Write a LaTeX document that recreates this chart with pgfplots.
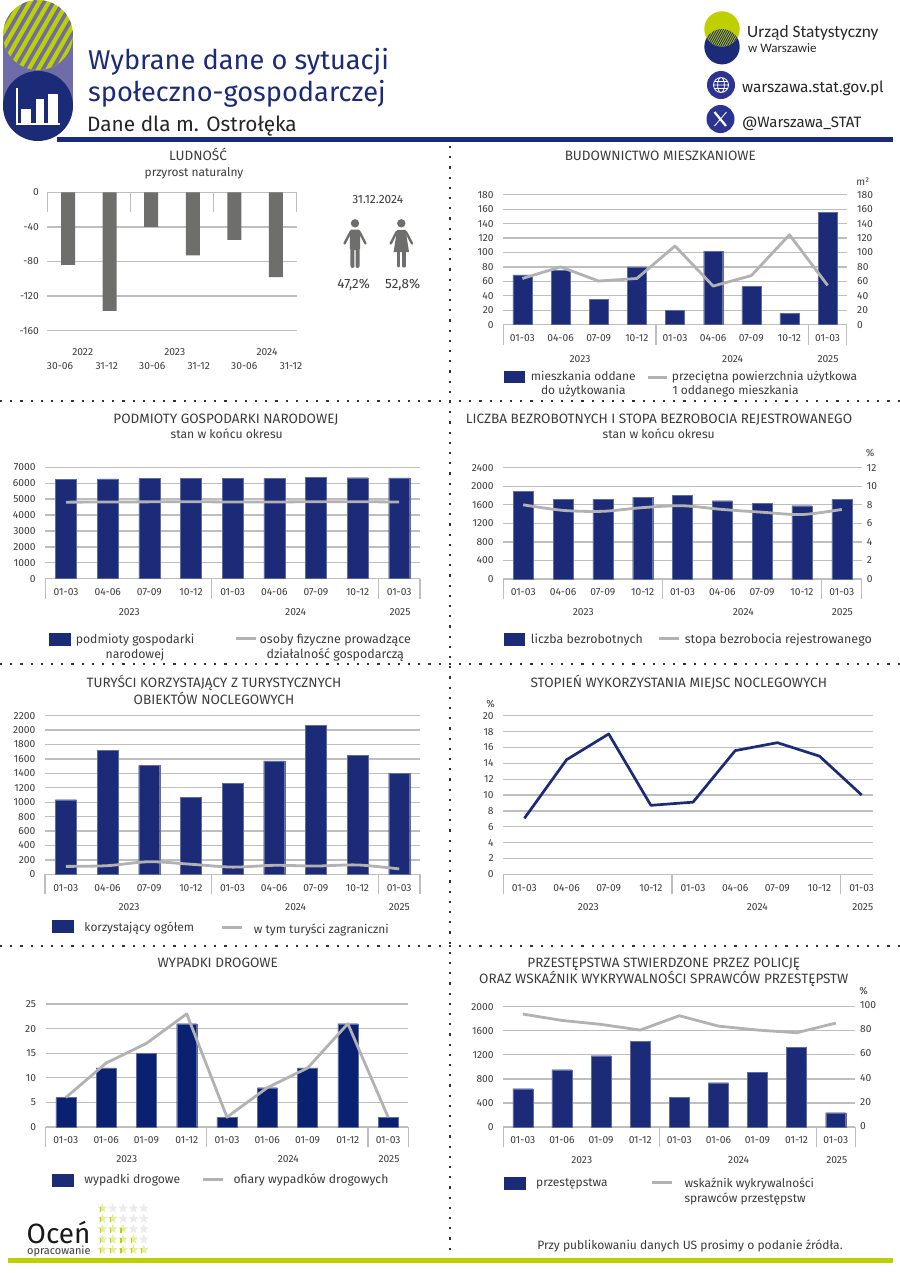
\documentclass[border=0pt]{standalone}
\usepackage{fontspec}
\setmainfont{Fira Sans}
\newfontfamily\logofont{Carlito}
\usepackage{pgfplots}
\pgfplotsset{compat=1.18}
\usetikzlibrary{shapes.geometric}

\definecolor{navy}{HTML}{1C2B77}
\definecolor{navyb}{HTML}{0A2070}
\definecolor{lime}{HTML}{BFD000}
\definecolor{lilac}{HTML}{6F6DA8}
\definecolor{gridc}{HTML}{BEBEBE}
\definecolor{linec}{HTML}{B2B2B2}
\definecolor{txt}{HTML}{3C3C3C}
\definecolor{greyb}{HTML}{6E6E6D}
\definecolor{icon}{HTML}{2B3490}

% text placed by its visual centre, in pixels from the top left corner
\newcommand{\ctext}[4]{\node[anchor=base,inner sep=0pt,text=txt] at ({#1},{#2+0.35*#3}) {\fontsize{#3}{#3}\selectfont #4};}
\newcommand{\ltext}[4]{\node[anchor=base west,inner sep=0pt,text=txt] at ({#1},{#2+0.35*#3}) {\fontsize{#3}{#3}\selectfont #4};}
\newcommand{\legrect}[4]{\fill[navy] (#1,#2) rectangle (#3,#4);}
\newcommand{\legline}[3]{\draw[linec,line width=2.6bp] (#1,#3) -- (#2,#3);}
\newcommand{\tl}{\fontsize{10.3}{10.3}\selectfont}

\pgfplotsset{
  ch/.style={scale only axis,anchor=north west,xmin=-0.5,xmax=8.5,
    axis x line=bottom,axis y line=left,
    x axis line style={draw=gridc,line width=1.3bp,-},y axis line style={draw=none},
    xtick={0,...,8},major tick length=0pt,tick align=outside,
    tick style={draw=gridc,line width=1.2bp},
    extra x ticks={-0.5,3.5,7.5,8.5},extra x tick labels={},
    extra x tick style={major tick length=20bp,grid=none},
    ymajorgrids,grid style={draw=gridc,line width=1.3bp},
    tick label style={font=\tl,text=txt,inner sep=0pt},
    /pgf/number format/assume math mode=true,/pgf/number format/1000 sep={},
    y tick label style={anchor=east,xshift=-9.5bp},
    x tick label style={anchor=base,yshift=-16.7bp},
    ybar,bar width=20bp},
  q/.style={xticklabels={01-03,04-06,07-09,10-12,01-03,04-06,07-09,10-12,01-03}},
  m/.style={xticklabels={01-03,01-06,01-09,01-12,01-03,01-06,01-09,01-12,01-03}},
  rt/.style={scale only axis,anchor=north west,xmin=-0.5,xmax=8.5,
    axis y line=right,axis x line=none,y axis line style={draw=none},
    xtick=\empty,major tick length=0pt,
    tick label style={font=\tl,text=txt,inner sep=0pt},
    /pgf/number format/assume math mode=true,/pgf/number format/1000 sep={}},
  barn/.style={fill=navy,draw=navy!70!white,line width=0.3bp},
  grey/.style={no markers,draw=linec,line width=2.8bp,line join=round},
}

\begin{document}
\begin{tikzpicture}[x=1bp,y=-1bp]
\useasboundingbox (0,0) rectangle (900,1273);
\fill[white] (0,0) rectangle (900,1273);

% header pill
\fill[lilac] (3,35) rectangle (73,106);
\begin{scope}
  \clip (38,35) circle (35);
  \fill[lime] (0,0) rectangle (75,72);
  \foreach \k in {-45,-35.6,...,80}
    \draw[lilac,line width=3.6bp] (\k,75) -- (\k+43.3,0);
\end{scope}
\fill[navy] (38,106) circle (35);
\draw[navy,line width=4.5bp] (57,139.3) -- (892.6,139.3);
\draw[white,line width=1.2bp] (17,88) -- (17,124) -- (60,124);
\fill[white] (21,109) rectangle (31,124);
\fill[white] (36,99) rectangle (44,124);
\fill[white] (48,94) rectangle (58,124);

\node[anchor=base west,inner sep=0pt,text=navy] at (88,69) {\fontsize{27.3}{27.3}\selectfont Wybrane dane o sytuacji};
\node[anchor=base west,inner sep=0pt,text=navy] at (88,101) {\fontsize{27.3}{27.3}\selectfont społeczno-gospodarczej};
\node[anchor=base west,inner sep=0pt,text=black!85] at (87,131) {\fontsize{20.9}{20.9}\selectfont Dane dla m. Ostrołęka};

% logo
\fill[navy] (722,46.7) circle (17.7);
\fill[lime] (722,29) circle (17.7);
\begin{scope}
  \clip (722,46.7) circle (17.7);
  \clip (722,29) circle (17.7);
  \foreach \k in {690,692.2,...,740}
    \draw[navy,line width=0.9bp] (\k,50) -- (\k+14,25);
\end{scope}
\node[anchor=base west,inner sep=0pt,text=black!85] at (747,37) {\logofont\fontsize{17.4}{17.4}\selectfont Urząd Statystyczny};
\node[anchor=base west,inner sep=0pt,text=black!85] at (748,52) {\logofont\fontsize{13}{13}\selectfont w Warszawie};
\fill[icon] (721,85) circle (14);
\draw[white,line width=0.8bp] (721,85) circle (7.5) (721,85) ellipse (3.4 and 7.5) (713.5,85) -- (728.5,85) (714.5,81.5) -- (727.5,81.5) (714.5,88.5) -- (727.5,88.5);
\fill[icon] (720.5,119) circle (14);
\draw[white,line width=2.2bp] (714.5,112) -- (726,126);
\draw[white,line width=0.8bp] (726.5,112) -- (714.5,126);
\node[anchor=base west,inner sep=0pt,text=black!85] at (742,92) {\fontsize{15.5}{15.5}\selectfont warszawa.stat.gov.pl};
\node[anchor=base west,inner sep=0pt,text=black!85] at (742,127) {\fontsize{15.1}{15.1}\selectfont @Warszawa\_STAT};

% dotted separators
\draw[black!80,line width=2.2bp,dash pattern=on 2.2bp off 8bp] (450,146) -- (450,1257);
\draw[black!80,line width=2.2bp,dash pattern=on 2.2bp off 8bp] (0,401) -- (900,401);
\draw[black!80,line width=2.2bp,dash pattern=on 2.2bp off 8bp] (0,664) -- (900,664);
\draw[black!80,line width=2.2bp,dash pattern=on 2.2bp off 8bp] (0,946) -- (900,946);
\draw[lime,line width=4.4bp] (8,1260.3) -- (893,1260.3);

% LUDNOSC
\draw[gridc,line width=1.2bp] (47.3,192.3) -- (47.3,211.5) (130.4,192.3) -- (130.4,211.5) (213.6,192.3) -- (213.6,211.5) (296.7,192.3) -- (296.7,211.5);
\begin{axis}[scale only axis,anchor=north west,at={(47.3bp,-192.3bp)},width=249.4bp,height=138.4bp,
  xmin=-0.5,xmax=5.5,ymin=-160,ymax=0,clip=false,
  axis x line=top,axis y line=left,
  x axis line style={draw=gridc,line width=1.3bp,-},y axis line style={draw=none},
  xtick=\empty,major tick length=0pt,
  ytick={0,-40,-80,-120,-160},ymajorgrids,grid style={draw=gridc,line width=1.3bp},
  tick label style={font=\tl,text=txt,inner sep=0pt},
  /pgf/number format/assume math mode=true,
  y tick label style={anchor=east,xshift=-8.3bp},
  ybar,bar width=14bp]
\addplot[fill=greyb,draw=none] coordinates {(0,-84)(1,-137)(2,-40)(3,-73)(4,-55)(5,-98)};
\end{axis}
\ctext{198}{155.7}{13.6}{LUDNOŚĆ}
\ctext{194}{172}{12}{przyrost naturalny}
\ctext{82.7}{352}{10.3}{2022}
\ctext{174.7}{352}{10.3}{2023}
\ctext{267}{352}{10.3}{2024}
\ctext{60}{366}{10.3}{30-06}
\ctext{106.7}{366}{10.3}{31-12}
\ctext{152.3}{366}{10.3}{30-06}
\ctext{198.7}{366}{10.3}{31-12}
\ctext{244.3}{366}{10.3}{30-06}
\ctext{291}{366}{10.3}{31-12}
\ctext{377.7}{199}{12}{31.12.2024}
\ctext{353.7}{284}{13.5}{47,2\%}
\ctext{402.7}{284}{13.5}{52,8\%}
% man
\fill[greyb] (355,223.3) circle (4.2);
\draw[greyb,line width=2.4bp,line cap=round,line join=round] (344.5,243.5) -- (350.5,232) -- (359.5,232) -- (365.5,243.5);
\fill[greyb,rounded corners=1.5bp] (349.8,229.5) rectangle (360.2,250);
\draw[greyb,line width=4bp,line cap=round] (352.3,248) -- (352.5,266);
\draw[greyb,line width=4bp,line cap=round] (357.7,248) -- (357.5,266);
% woman
\fill[greyb] (401.3,223.3) circle (4.2);
\draw[greyb,line width=2.4bp,line cap=round,line join=round] (390.7,243.5) -- (396.5,232) -- (406,232) -- (412,243.5);
\fill[greyb] (397,229.8) -- (405.6,229.8) -- (409,252) -- (393.6,252) -- cycle;
\draw[greyb,line width=3.2bp,line cap=round] (398.6,252) -- (398.6,266);
\draw[greyb,line width=3.2bp,line cap=round] (404,252) -- (404,266);

% BUDOWNICTWO
\begin{axis}[ch,q,at={(503.3bp,-194.7bp)},width=343.4bp,height=130bp,ymin=0,ymax=180,ytick={0,20,...,180},bar width=19bp]
\addplot[barn] coordinates {(0,69)(1,75)(2,35)(3,80)(4,20)(5,102)(6,53)(7,16)(8,156)};
\end{axis}
\begin{axis}[rt,at={(503.3bp,-194.7bp)},width=343.4bp,height=130bp,ymin=0,ymax=180,ytick={0,20,...,180},
  y tick label style={anchor=west,xshift=10.3bp}]
\addplot[grey] coordinates {(0,64)(1,80)(2,60.5)(3,64)(4,109)(5,53.5)(6,68)(7,124.5)(8,54.5)};
\end{axis}
\ctext{660.3}{155.7}{13.6}{BUDOWNICTWO MIESZKANIOWE}
\ctext{862.7}{182}{10.3}{m²}
\ctext{580}{359}{10.3}{2023}
\ctext{732.7}{359}{10.3}{2024}
\ctext{828}{359}{10.3}{2025}
\legrect{504}{371}{525.3}{383.3}
\ctext{583.3}{376}{12}{mieszkania oddane}
\ctext{583.3}{390.7}{12}{do użytkowania}
\legline{648}{666.7}{377.3}
\ltext{671.7}{376}{12}{przeciętna powierzchnia użytkowa}
\ltext{672.3}{390.7}{12}{1 oddanego mieszkania}

% PODMIOTY
\begin{axis}[ch,q,at={(45.3bp,-467.3bp)},width=374.7bp,height=111.4bp,ymin=0,ymax=7000,ytick={0,1000,...,7000},bar width=21bp]
\addplot[barn] coordinates {(0,6246)(1,6267)(2,6288)(3,6309)(4,6309)(5,6310)(6,6372)(7,6350)(8,6330)};
\addplot[grey,sharp plot] coordinates {(0,4810)(1,4820)(2,4830)(3,4840)(4,4820)(5,4820)(6,4840)(7,4840)(8,4820)};
\end{axis}
\ctext{226}{418.7}{13.6}{PODMIOTY GOSPODARKI NARODOWEJ}
\ctext{226.7}{434}{12.2}{stan w końcu okresu}
\ctext{129.3}{611.7}{10.3}{2023}
\ctext{295.7}{611.7}{10.3}{2024}
\ctext{400}{611.7}{10.3}{2025}
\legrect{49.3}{633}{71.3}{646}
\ctext{135}{639.3}{12.3}{podmioty gospodarki}
\ctext{135}{654}{12.3}{narodowej}
\legline{236}{256}{638.3}
\ctext{335.3}{639}{12.5}{osoby fizyczne prowadzące}
\ctext{335.3}{654}{12.5}{działalność gospodarczą}

% BEZROBOCIE
\begin{axis}[ch,q,at={(503.3bp,-467.7bp)},width=358.4bp,height=111.3bp,ymin=0,ymax=2400,ytick={0,400,...,2400}]
\addplot[barn] coordinates {(0,1890)(1,1717)(2,1717)(3,1760)(4,1811)(5,1688)(6,1631)(7,1581)(8,1717)};
\end{axis}
\begin{axis}[rt,at={(503.3bp,-467.7bp)},width=358.4bp,height=111.3bp,ymin=0,ymax=12,ytick={0,2,...,12},
  y tick label style={anchor=west,xshift=5bp}]
\addplot[grey,smooth] coordinates {(0,8.0)(1,7.4)(2,7.3)(3,7.7)(4,7.9)(5,7.5)(6,7.2)(7,6.95)(8,7.5)};
\end{axis}
\ctext{659}{418.7}{13.6}{LICZBA BEZROBOTNYCH I STOPA BEZROBOCIA REJESTROWANEGO}
\ctext{658.7}{434}{12.2}{stan w końcu okresu}
\ctext{870}{453}{10.3}{\%}
\ctext{583.3}{611.7}{10.3}{2023}
\ctext{743.3}{611.7}{10.3}{2024}
\ctext{842.3}{611.7}{10.3}{2025}
\legrect{504.3}{632.7}{525.3}{645.7}
\ltext{530.7}{638.7}{12.4}{liczba bezrobotnych}
\legline{659.3}{678.7}{638.7}
\ltext{684.7}{638.7}{12.5}{stopa bezrobocia rejestrowanego}

% TURYSCI
\begin{axis}[ch,q,at={(45bp,-715.7bp)},width=375bp,height=158.6bp,ymin=0,ymax=2200,ytick={0,200,...,2200},bar width=21bp]
\addplot[barn] coordinates {(0,1035)(1,1724)(2,1511)(3,1068)(4,1262)(5,1572)(6,2066)(7,1650)(8,1405)};
\addplot[grey,smooth] coordinates {(0,110)(1,120)(2,175)(3,140)(4,100)(5,125)(6,115)(7,130)(8,75)};
\end{axis}
\ctext{214}{682.3}{13.6}{TURYŚCI KORZYSTAJĄCY Z TURYSTYCZNYCH}
\ctext{214}{699.3}{13.6}{OBIEKTÓW NOCLEGOWYCH}
\ctext{129}{907.3}{10.3}{2023}
\ctext{295.7}{907.3}{10.3}{2024}
\ctext{399.3}{907.3}{10.3}{2025}
\legrect{52}{920}{73.7}{933}
\ltext{84.3}{927.7}{12}{korzystający ogółem}
\legline{222.3}{241.7}{927.7}
\ltext{253.7}{929}{12}{w tym turyści zagraniczni}

% STOPIEN WYKORZYSTANIA
\begin{axis}[ch,q,at={(503.3bp,-715.7bp)},width=369.3bp,height=158.6bp,xmax=8.259,ymin=0,ymax=20,ytick={0,2,...,20},
  extra x ticks={-0.5,3.5,7.5},clip=false]
\addplot[sharp plot,no markers,draw=navy,line width=2.7bp,line join=round] coordinates {(0,7.06)(1,14.45)(2,17.7)(3,8.7)(4,9.1)(5,15.6)(6,16.6)(7,14.9)(8,10)};
\end{axis}
\ctext{678.8}{683}{13.6}{STOPIEŃ WYKORZYSTANIA MIEJSC NOCLEGOWYCH}
\ctext{490.7}{704}{10.3}{\%}
\ctext{588.3}{907.3}{10.3}{2023}
\ctext{757.3}{907.3}{10.3}{2024}
\ctext{862.7}{907.3}{10.3}{2025}

% WYPADKI
\begin{axis}[ch,m,at={(45.7bp,-1004bp)},width=362.6bp,height=123bp,ymin=0,ymax=25,ytick={0,5,...,25}]
\addplot[fill=navyb,draw=navy!70!white,line width=0.3bp] coordinates {(0,6)(1,12)(2,15)(3,21)(4,2)(5,8)(6,12)(7,21)(8,2)};
\addplot[grey,sharp plot] coordinates {(0,6)(1,13)(2,17)(3,23)(4,2)(5,8)(6,12)(7,21)(8,2)};
\end{axis}
\ctext{217.7}{963}{13.6}{WYPADKI DROGOWE}
\ctext{126.7}{1159.3}{10.3}{2023}
\ctext{288.3}{1159.3}{10.3}{2024}
\ctext{389}{1159.3}{10.3}{2025}
\legrect{52.3}{1174.3}{73.7}{1187}
\ltext{84.3}{1179.3}{12.2}{wypadki drogowe}
\legline{203.3}{222.7}{1179.7}
\ltext{233.3}{1179.3}{12.2}{ofiary wypadków drogowych}

% ocen
\node[anchor=base west,inner sep=0pt,text=black!90] at (26.5,1243) {\fontsize{28}{24}\selectfont Oceń};
\node[anchor=base west,inner sep=0pt,text=txt] at (27,1254.5) {\fontsize{11}{11}\selectfont opracowanie};
\foreach \r in {1,...,5}
  \foreach \c in {1,...,5} {
    \pgfmathsetmacro{\sx}{92+10.35*\c}
    \pgfmathsetmacro{\sy}{1198+10.35*\r}
    \ifnum\c>\r
      \node[star,star points=5,star point ratio=2.3,fill=black!8,inner sep=0pt,minimum size=10bp] at (\sx,\sy) {};
    \else
      \node[star,star points=5,star point ratio=2.3,fill=lime!38,inner sep=0pt,minimum size=10bp] at (\sx,\sy) {};
      \draw[lime,line width=1.4bp] (\sx-2,\sy-1.5) -- (\sx-2,\sy+3.5);
    \fi
  }

% PRZESTEPSTWA
\begin{axis}[ch,m,at={(503.3bp,-1006.7bp)},width=352bp,height=120.3bp,ymin=0,ymax=2000,ytick={0,400,...,2000}]
\addplot[barn] coordinates {(0,637)(1,953)(2,1186)(3,1429)(4,499)(5,737)(6,909)(7,1324)(8,238)};
\end{axis}
\begin{axis}[rt,at={(503.3bp,-1006.7bp)},width=352bp,height=120.3bp,ymin=0,ymax=100,ytick={0,20,...,100},
  y tick label style={anchor=west,xshift=4.7bp,yshift=1.3bp}]
\addplot[grey,sharp plot] coordinates {(0,93.9)(1,88.6)(2,85.3)(3,80.6)(4,92.5)(5,83.9)(6,80.6)(7,78.4)(8,86.4)};
\end{axis}
\ctext{663.8}{962.3}{13.6}{PRZESTĘPSTWA STWIERDZONE PRZEZ POLICJĘ}
\ctext{663.8}{978.7}{13.6}{ORAZ WSKAŹNIK WYKRYWALNOŚCI SPRAWCÓW PRZESTĘPSTW}
\ctext{863.7}{991}{10.3}{\%}
\ctext{581.7}{1160}{10.3}{2023}
\ctext{738.7}{1160}{10.3}{2024}
\ctext{836.7}{1160}{10.3}{2025}
\legrect{504.3}{1176.7}{526.3}{1190.3}
\ltext{536}{1182}{12}{przestępstwa}
\legline{651.7}{671.7}{1182.3}
\ltext{684.3}{1183.7}{12}{wskaźnik wykrywalności}
\ltext{684.3}{1198.3}{12}{sprawców przestępstw}
\ctext{690}{1245.3}{12.1}{Przy publikowaniu danych US prosimy o podanie źródła.}
\end{tikzpicture}
\end{document}
